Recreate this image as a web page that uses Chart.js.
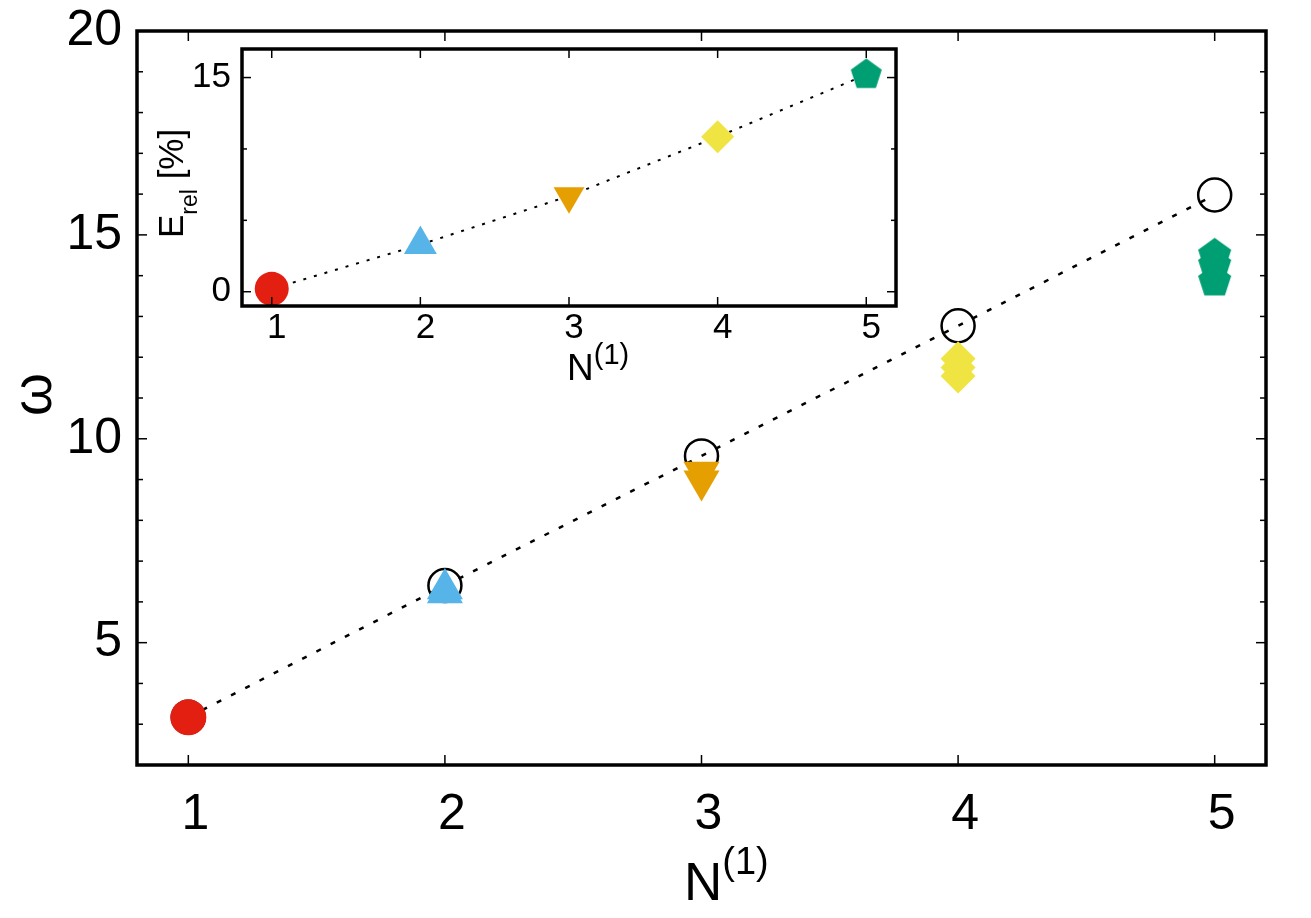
<!DOCTYPE html>
<html lang="en">
<head>
<meta charset="UTF-8">
<meta name="viewport" content="width=device-width, initial-scale=1.0">
<title>omega vs N(1)</title>
<script src="https://cdn.jsdelivr.net/npm/chart.js"></script>
<style>
  body { margin: 0; background: #fff; }
  #wrap { position: relative; width: 1311px; height: 918px; font-family: 'Liberation Sans', Arial, sans-serif; color: #000; }
  #main { position: absolute; left: 0; top: 0; width: 1311px; height: 918px; }
  #inset { position: absolute; left: 150px; top: 32px; width: 763px; height: 348px; }
  .lbl { position: absolute; left: 0; top: 0; white-space: nowrap; line-height: 1; transform-origin: 0 0; }
  .lbl span { position: relative; }
</style>
</head>
<body>
<div id="wrap">
  <div id="main"><canvas id="mainChart"></canvas></div>
  <div id="inset"><canvas id="insetChart"></canvas></div>

  <div class="lbl" style="left:684px; top:855px; font-size:53px;">N<span style="font-size:38px; top:-26px;">(1)</span></div>
  <div class="lbl" style="transform: translate(5px, 416px) rotate(-90deg); font-size:55px;">ω</div>

  <div class="lbl" style="left:567px; top:349px; font-size:37px;">N<span style="font-size:29px; top:-16px;">(1)</span></div>
  <div class="lbl" style="transform: translate(153px, 238px) rotate(-90deg); font-size:35px;">E<span style="font-size:23px; top:14px;">rel</span> [%]</div>
</div>

<script>
// main plot: omega against N(1)
const nAxis = [1, 2, 3, 4, 5];
const omegaLine = [3.17, 6.40, 9.58, 12.77, 15.98];
const omegaN1 = [3.17];
const omegaN2 = [6.32, 6.22];
const omegaN3 = [9.18, 8.97];
const omegaN4 = [11.96, 11.75, 11.54];
const omegaN5 = [14.50, 14.25, 13.86];

// inset: relative error in percent
const eRel = [0.2, 3.3, 6.7, 10.85, 15.2];

// ticks
const mainXTicks = [1, 2, 3, 4, 5];
const mainYTicks = [5, 10, 15, 20];
const mainYMinor = [3, 4, 6, 7, 8, 9, 11, 12, 13, 14, 16, 17, 18, 19];
const insetXTicks = [1, 2, 3, 4, 5];
const insetYTicks = [0, 15];
const insetYMinor = [5, 10];

const colRed = '#e31f12';
const colBlue = '#56b4e9';
const colOrange = '#e69f00';
const colYellow = '#f0e442';
const colGreen = '#009e73';
const fontFamily = "'Liberation Sans', Arial, sans-serif";

function pentagon(R, color) {
    const c = document.createElement('canvas');
    const s = Math.ceil(2 * R + 2);
    c.width = s;
    c.height = s;
    const g = c.getContext('2d');
    g.fillStyle = color;
    g.beginPath();
    for (let k = 0; k < 5; k++) {
        const a = -Math.PI / 2 + k * 2 * Math.PI / 5;
        const px = s / 2 + R * Math.cos(a);
        const py = s / 2 + R * Math.sin(a);
        if (k === 0) g.moveTo(px, py); else g.lineTo(px, py);
    }
    g.closePath();
    g.fill();
    return c;
}

function pts(n, arr) {
    return arr.map(v => ({ x: n, y: v }));
}

// keep chart area where the layout padding puts it
function noOverflow(s) {
    s.paddingTop = 0;
    s.paddingBottom = 0;
    s.paddingLeft = 0;
    s.paddingRight = 0;
}

// gnuplot-like frame with inward ticks on all four sides
const framePlugin = {
    id: 'frame',
    beforeDraw(chart) {
        const a = chart.chartArea, ctx = chart.ctx;
        ctx.save();
        ctx.fillStyle = '#fff';
        ctx.fillRect(a.left, a.top, a.right - a.left, a.bottom - a.top);
        ctx.restore();
    },
    afterDraw(chart, args, o) {
        const { ctx, chartArea: a, scales: { x, y } } = chart;
        const line = (x1, y1, x2, y2) => { ctx.beginPath(); ctx.moveTo(x1, y1); ctx.lineTo(x2, y2); ctx.stroke(); };
        ctx.save();
        ctx.strokeStyle = '#000';
        ctx.lineWidth = o.tickWidth;
        const xTicks = (list, len) => list.forEach(v => {
            const p = x.getPixelForValue(v);
            line(p, a.bottom, p, a.bottom - len);
            line(p, a.top, p, a.top + len);
        });
        const yTicks = (list, len) => list.forEach(v => {
            const p = y.getPixelForValue(v);
            line(a.left, p, a.left + len, p);
            line(a.right, p, a.right - len, p);
        });
        xTicks(o.xMajor, o.major);
        yTicks(o.yMajor, o.major);
        yTicks(o.yMinor, o.minor);
        ctx.lineWidth = o.frameWidth;
        ctx.strokeRect(a.left, a.top, a.right - a.left, a.bottom - a.top);
        ctx.restore();
    }
};

new Chart(document.getElementById('mainChart'), {
    type: 'scatter',
    data: {
        datasets: [
            {
                data: nAxis.map((n, i) => ({ x: n, y: omegaLine[i] })),
                showLine: true,
                borderColor: '#000',
                borderWidth: 2.5,
                borderDash: [5, 11],
                pointStyle: 'circle',
                pointRadius: 16.5,
                pointBorderWidth: 2.5,
                pointBorderColor: '#000',
                pointBackgroundColor: 'rgba(0,0,0,0)',
                order: 2,
                clip: false
            },
            { data: pts(1, omegaN1), pointStyle: 'circle', pointRadius: 18, pointBorderWidth: 0, pointBackgroundColor: colRed, order: 1, clip: false },
            { data: pts(2, omegaN2), pointStyle: 'triangle', pointRadius: 20.8, pointBorderWidth: 0, pointBackgroundColor: colBlue, order: 1, clip: false },
            { data: pts(3, omegaN3), pointStyle: 'triangle', rotation: 180, pointRadius: 20.8, pointBorderWidth: 0, pointBackgroundColor: colOrange, order: 1, clip: false },
            { data: pts(4, omegaN4), pointStyle: 'rectRot', pointRadius: 17.5, pointBorderWidth: 0, pointBackgroundColor: colYellow, order: 1, clip: false },
            { data: pts(5, omegaN5), pointStyle: pentagon(17.4, colGreen), pointRadius: 17, pointBorderWidth: 0, order: 1, clip: false }
        ]
    },
    options: {
        responsive: true,
        maintainAspectRatio: false,
        animation: false,
        events: [],
        layout: { padding: { left: 0, right: 45, top: 31, bottom: 0 } },
        plugins: {
            legend: { display: false },
            tooltip: { enabled: false },
            frame: { xMajor: mainXTicks, yMajor: mainYTicks, yMinor: mainYMinor, major: 10, minor: 6, tickWidth: 1.5, frameWidth: 3.5 }
        },
        scales: {
            x: {
                type: 'linear', min: 0.8, max: 5.2,
                afterBuildTicks: s => { s.ticks = mainXTicks.map(v => ({ value: v })); },
                afterFit: s => { s.height = 153; noOverflow(s); },
                grid: { display: false, drawTicks: false },
                border: { display: false },
                ticks: { font: { family: fontFamily, size: 50 }, color: '#000', padding: 20, labelOffset: 7, maxRotation: 0, autoSkip: false }
            },
            y: {
                type: 'linear', min: 2, max: 20,
                afterBuildTicks: s => { s.ticks = mainYTicks.map(v => ({ value: v })); },
                afterFit: s => { s.width = 137; noOverflow(s); },
                grid: { display: false, drawTicks: false },
                border: { display: false },
                ticks: { font: { family: fontFamily, size: 50 }, color: '#000', padding: 15, autoSkip: false }
            }
        }
    },
    plugins: [framePlugin]
});

// the markers' overflow makes Chart.js keep at least ~16px around the inset area
new Chart(document.getElementById('insetChart'), {
    type: 'scatter',
    data: {
        datasets: [{
            data: nAxis.map((n, i) => ({ x: n, y: eRel[i] })),
            showLine: true,
            borderColor: '#000',
            borderWidth: 2,
            borderDash: [3, 8],
            pointStyle: ['circle', 'triangle', 'triangle', 'rectRot', pentagon(16.3, colGreen)],
            rotation: [0, 0, 180, 0, 0],
            pointRadius: [17, 19, 17.8, 16.5, 16],
            pointBorderWidth: 0,
            pointBackgroundColor: [colRed, colBlue, colOrange, colYellow, colGreen],
            clip: false
        }]
    },
    options: {
        responsive: true,
        maintainAspectRatio: false,
        animation: false,
        events: [],
        layout: { padding: { left: 0, right: 16, top: 0, bottom: 0 } },
        plugins: {
            legend: { display: false },
            tooltip: { enabled: false },
            frame: { xMajor: insetXTicks, yMajor: insetYTicks, yMinor: insetYMinor, major: 9, minor: 5, tickWidth: 1.5, frameWidth: 3.5 }
        },
        scales: {
            x: {
                type: 'linear', min: 0.8, max: 5.2,
                afterBuildTicks: s => { s.ticks = insetXTicks.map(v => ({ value: v })); },
                afterFit: s => { s.height = 74; noOverflow(s); },
                grid: { display: false, drawTicks: false },
                border: { display: false },
                ticks: { font: { family: fontFamily, size: 35 }, color: '#000', padding: 1, labelOffset: 5, maxRotation: 0, autoSkip: false }
            },
            y: {
                type: 'linear', min: -1, max: 17,
                afterBuildTicks: s => { s.ticks = insetYTicks.map(v => ({ value: v })); },
                afterFit: s => { s.width = 92; noOverflow(s); },
                grid: { display: false, drawTicks: false },
                border: { display: false },
                ticks: { font: { family: fontFamily, size: 35 }, color: '#000', padding: 11, autoSkip: false }
            }
        }
    },
    plugins: [framePlugin]
});
</script>
</body>
</html>
